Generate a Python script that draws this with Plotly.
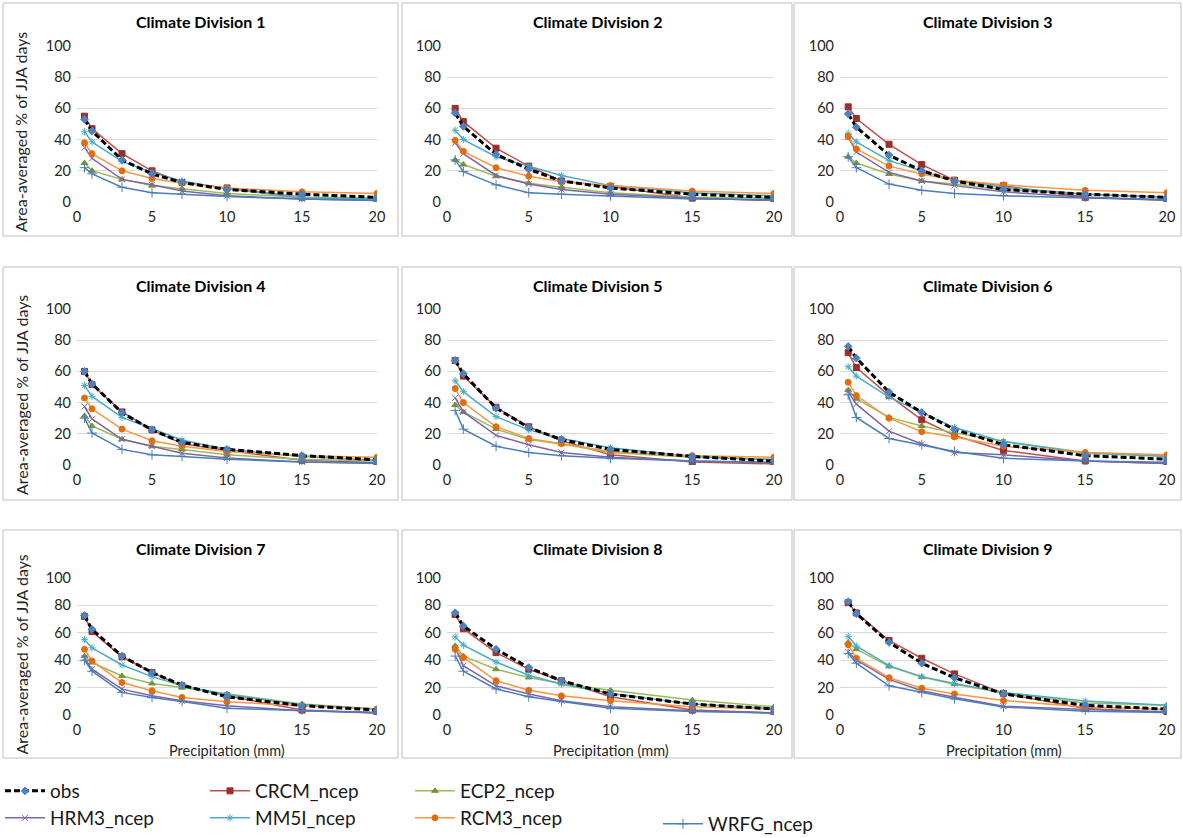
import plotly.graph_objects as go

# ---------------- data ----------------
precip_mm = [0.5, 1, 3, 5, 7, 10, 15, 20]
divisions = ["Climate Division %d" % i for i in range(1, 10)]
series_names = ["obs", "CRCM_ncep", "ECP2_ncep", "HRM3_ncep", "MM5I_ncep", "RCM3_ncep", "WRFG_ncep"]

obs = [
    [53, 45.5, 27, 18, 12.5, 8, 5, 3],
    [57, 48.5, 30.5, 21, 13.5, 9, 5, 3],
    [56.5, 48, 30, 20, 13.5, 8, 5, 3],
    [60, 52, 33.5, 22.5, 14.5, 10, 6, 3.3],
    [67, 58.5, 36.5, 24, 16.3, 10, 5.5, 2.5],
    [76, 68.5, 46.7, 33.7, 22.8, 13, 6, 3.7],
    [72.6, 62.5, 43, 31, 21.8, 13.3, 6.8, 3.6],
    [74.6, 65, 48, 34.6, 25, 15.3, 8, 4.4],
    [82.7, 74, 53, 37.8, 27.2, 15.4, 7, 4.3],
]
crcm = [
    [55, 47, 31, 20, 12.5, 9, 3, 1],
    [60, 51.5, 34.5, 23, 13.5, 10, 2.5, 1],
    [61, 53.5, 37, 24, 14, 10.5, 3, 1],
    [60, 51.5, 34, 22.5, 13.7, 9.3, 3, 1.5],
    [67, 57, 37, 24.5, 15.5, 6.5, 2, 0.7],
    [72, 62.5, 44.5, 29, 19, 9.3, 2.6, 1],
    [72, 61, 42.5, 31, 21.3, 14, 3.6, 1.5],
    [73.4, 63, 45.5, 33.4, 25, 13.3, 3.6, 1.5],
    [82, 74.5, 54.4, 41.4, 30, 15.8, 4.7, 1.7],
]
ecp2 = [
    [25, 20, 14.5, 10.5, 8.5, 5.5, 3, 2.5],
    [27, 24, 16.5, 12, 9.5, 6, 3, 2.5],
    [29, 25, 18, 13.5, 11.5, 8, 5, 3],
    [31.5, 25, 16.5, 12, 10, 6.5, 3.7, 2.5],
    [38.5, 34, 23, 16.3, 13.5, 8, 5, 3.7],
    [48, 42.5, 30.5, 25, 20.6, 15.2, 8, 5.9],
    [43, 38.3, 28.5, 23, 20, 15.3, 8, 4.4],
    [50.4, 43, 33.4, 27.4, 23, 18, 10.9, 6],
    [53, 48, 35.5, 27.7, 22.5, 16, 8.7, 7.1],
]
hrm3 = [
    [35, 28, 14.5, 11, 7, 4, 2, 1],
    [38, 31, 17, 11.5, 8, 5, 2.5, 1],
    [41.5, 32, 19, 13.5, 10.5, 6.5, 3, 1.5],
    [37.5, 29.5, 16.5, 12, 7.5, 4.5, 2, 1],
    [43, 34, 19, 13, 8, 5, 2.5, 1.5],
    [47, 39, 21.7, 13.5, 8, 6.5, 2.6, 1],
    [41.4, 33.4, 18.9, 14, 10.4, 6.8, 3.1, 1.5],
    [49, 36, 21.3, 15.3, 10.4, 6, 3.1, 1.5],
    [46, 40.2, 26, 17.7, 13, 6.4, 4, 2.4],
]
mm5i = [
    [45, 38.5, 26, 19, 13.5, 8.5, 2.5, 2],
    [46, 40, 29, 23, 17, 10.5, 6, 4],
    [44, 38.5, 26.5, 20, 13.5, 9.5, 5, 3],
    [51, 44, 30.5, 23, 16, 10, 5.5, 3],
    [54, 47, 31, 22.5, 17, 11, 5.5, 3.3],
    [63, 57, 43.5, 33.7, 24, 15, 7.5, 5.5],
    [55, 49, 36.5, 28, 21.3, 14.8, 7.5, 4.4],
    [57, 51, 38.7, 29, 22.5, 15.7, 8, 4.8],
    [57.4, 50.4, 36, 28, 23, 16.5, 10.2, 7.1],
]
rcm3 = [
    [38, 31, 20, 15, 12, 9, 6.5, 5.5],
    [39.5, 32.5, 22, 16.5, 13, 10.5, 7, 5.5],
    [42, 34, 23, 18, 14, 11, 7.5, 6],
    [43, 36, 23, 15.5, 12, 8.7, 6, 5],
    [49, 40, 24.5, 17, 13.7, 8.7, 6, 5],
    [53, 44.5, 30, 21.3, 18, 12, 8, 6.5],
    [48, 39.5, 23.7, 17.7, 12.8, 9.7, 6.8, 4.4],
    [48, 42, 25, 18, 14, 10.4, 6, 4.4],
    [51.3, 41.4, 27.2, 19.6, 15.4, 10.6, 5.9, 4],
]
wrfg = [
    [22, 18, 9.5, 6, 5, 3.5, 2, 1],
    [27, 19.5, 11, 6, 5, 4, 2, 1.5],
    [29, 22, 11.5, 7.5, 5.5, 4, 2.5, 1.5],
    [30, 20.5, 10, 6.5, 5.5, 3.7, 2, 1.5],
    [35, 23, 12, 8, 6, 4.3, 2.6, 1.7],
    [45, 30.5, 17, 13, 8.7, 4.3, 2.6, 1.7],
    [40, 32, 16.5, 12.8, 9.9, 5, 3.1, 2],
    [43, 32, 19, 13.3, 9.9, 5, 2.6, 1.5],
    [45, 37.8, 21.3, 16.5, 11.8, 5.9, 2.8, 1.9],
]
x_ticks = [0, 5, 10, 15, 20]
y_ticks = [0, 20, 40, 60, 80, 100]
y_title = "Area-averaged % of JJA days"
x_title = "Precipitation (mm)"

# ---------------- styles ----------------
W, H = 1183, 838
FONT = "Lato, Carlito, Calibri, sans-serif"
styles = {
    "obs":       dict(color="#000000", mcolor="#4F81BD", symbol="diamond", dash="6px,3px", width=3, msize=6, legend="legend"),
    "CRCM_ncep": dict(color="#C0504D", mcolor="#9B2F2C", symbol="square", dash="solid", width=1.5, msize=6, legend="legend"),
    "ECP2_ncep": dict(color="#9BBB59", mcolor="#77933C", symbol="triangle-up", dash="solid", width=1.5, msize=6, legend="legend"),
    "HRM3_ncep": dict(color="#8064A2", mcolor="#8064A2", symbol="x-thin-open", dash="solid", width=1.5, msize=6, legend="legend2"),
    "MM5I_ncep": dict(color="#4BACC6", mcolor="#4BACC6", symbol="asterisk-open", dash="solid", width=1.5, msize=6, legend="legend2"),
    "RCM3_ncep": dict(color="#F79646", mcolor="#E46C0A", symbol="circle", dash="solid", width=1.5, msize=6, legend="legend2"),
    "WRFG_ncep": dict(color="#4A7EBB", mcolor="#4A7EBB", symbol="cross-thin-open", dash="solid", width=1.5, msize=7, legend="legend3"),
}
series_data = {"obs": obs, "CRCM_ncep": crcm, "ECP2_ncep": ecp2, "HRM3_ncep": hrm3,
               "MM5I_ncep": mm5i, "RCM3_ncep": rcm3, "WRFG_ncep": wrfg}
draw_order = ["CRCM_ncep", "ECP2_ncep", "HRM3_ncep", "MM5I_ncep", "RCM3_ncep", "WRFG_ncep", "obs"]
legend_rank = {n: i for i, n in enumerate(series_names)}

# pixel layout
col_px = [(77, 377), (447, 774), (840, 1167)]
row_px = [(46, 202), (309, 465), (578, 715)]
box_col = [(3, 398), (402, 792), (794, 1181)]
box_row = [(3, 236), (267, 500), (530, 758)]
title_y = [22, 285, 548]

def px(x):
    return x / W

def py(y):
    return 1 - y / H

fig = go.Figure()
layout = dict(
    width=W, height=H, autosize=False,
    margin=dict(l=0, r=0, t=0, b=0, pad=0, autoexpand=False),
    paper_bgcolor="white", plot_bgcolor="white",
    font=dict(family=FONT, size=14, color="#262626"),
    shapes=[], annotations=[],
)

for k in range(9):
    r, c = divmod(k, 3)
    sfx = "" if k == 0 else str(k + 1)
    xa, ya = "x" + sfx, "y" + sfx
    layout["xaxis" + sfx] = dict(
        domain=[px(col_px[c][0]), px(col_px[c][1])], anchor=ya,
        range=[0, 20], tickvals=x_ticks, showgrid=False, zeroline=False,
        showline=False, ticks="", ticklabelstandoff=4, automargin=False,
        tickfont=dict(size=14.5, color="#262626"), fixedrange=True,
    )
    layout["yaxis" + sfx] = dict(
        domain=[py(row_px[r][1]), py(row_px[r][0])], anchor=xa,
        range=[0, 100], tickvals=y_ticks, showgrid=True, gridcolor="#D9D9D9",
        gridwidth=1, zeroline=False, showline=False, ticks="", automargin=False,
        ticklabelstandoff=5, tickfont=dict(size=14.5, color="#262626"), fixedrange=True,
    )
    for name in draw_order:
        st = styles[name]
        fig.add_trace(go.Scatter(
            x=precip_mm, y=series_data[name][k], mode="lines+markers", name=name,
            xaxis=xa, yaxis=ya,
            line=dict(color=st["color"], width=st["width"], dash=st["dash"]),
            marker=dict(symbol=st["symbol"], size=st["msize"], color=st["mcolor"],
                        line=dict(color=st["mcolor"], width=1)),
            showlegend=(k == 0), legend=st["legend"], legendrank=legend_rank[name],
        ))
    # panel border
    layout["shapes"].append(dict(
        type="rect", xref="paper", yref="paper",
        x0=px(box_col[c][0]), x1=px(box_col[c][1]),
        y0=py(box_row[r][1]), y1=py(box_row[r][0]),
        line=dict(color="#BFBFBF", width=1), fillcolor="rgba(0,0,0,0)", layer="below",
    ))
    # title
    layout["annotations"].append(dict(
        text="<b>%s</b>" % divisions[k], xref="paper", yref="paper",
        x=px((box_col[c][0] + box_col[c][1]) / 2), y=py(title_y[r]),
        xanchor="center", yanchor="middle", showarrow=False,
        font=dict(family=FONT, size=16, color="#000000"),
    ))
    if c == 0:
        layout["annotations"].append(dict(
            text=y_title, xref="paper", yref="paper", textangle=-90,
            x=px(21), y=py((row_px[r][0] + row_px[r][1]) / 2 + 8),
            xanchor="center", yanchor="middle", showarrow=False,
            font=dict(family=FONT, size=16, color="#262626"),
        ))
    if r == 2:
        layout["annotations"].append(dict(
            text=x_title, xref="paper", yref="paper",
            x=px((col_px[c][0] + col_px[c][1]) / 2), y=py(750),
            xanchor="center", yanchor="middle", showarrow=False,
            font=dict(family=FONT, size=14.5, color="#262626"),
        ))

leg_common = dict(orientation="h", xanchor="left", yanchor="middle",
                  bgcolor="rgba(0,0,0,0)", entrywidthmode="pixels", entrywidth=150,
                  font=dict(family=FONT, size=19, color="#1a1a1a"),
                  itemwidth=40, tracegroupgap=0)
layout["legend"] = dict(leg_common, x=px(0), y=py(791))
layout["legend2"] = dict(leg_common, x=px(0), y=py(818))
layout["legend3"] = dict(leg_common, x=px(658), y=py(824))

fig.update_layout(**layout)
fig.write_html("out.html", config={"displayModeBar": False},
               post_script="document.body.style.margin='0px';")
